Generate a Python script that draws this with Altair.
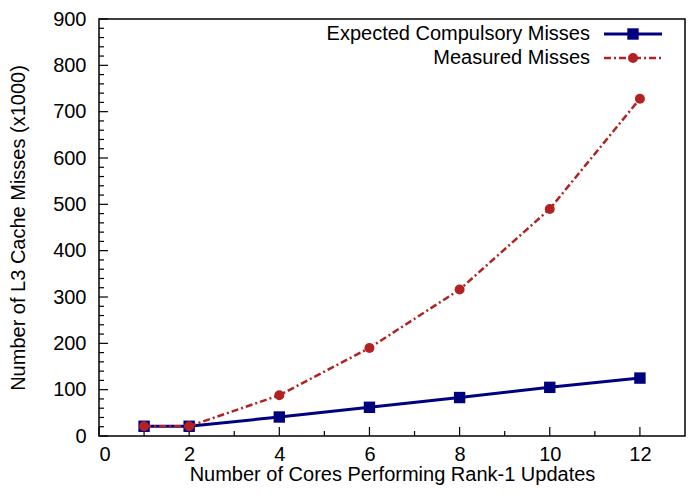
import altair as alt
import pandas as pd

cores = [1, 2, 4, 6, 8, 10, 12]
expected = [21, 21, 41, 62, 83, 105, 125]
measured = [21, 21, 88, 190, 316, 490, 728]

x_major = [0, 2, 4, 6, 8, 10, 12]
x_minor = [1, 3, 5, 7, 9, 11]
y_major = [0, 100, 200, 300, 400, 500, 600, 700, 800, 900]
y_minor = [v for v in range(20, 900, 20) if v % 100 != 0]

FONT = "Liberation Sans"
BLUE = "#00007f"
RED = "#b22222"

df_exp = pd.DataFrame({"x": cores, "y": expected})
df_mea = pd.DataFrame({"x": cores, "y": measured})

xs = alt.Scale(domain=[0, 13], nice=False, zero=False)
ys = alt.Scale(domain=[0, 900], nice=False)

W, H = 586, 417

X = alt.X("x:Q", scale=xs, axis=alt.Axis(values=x_major, title="Number of Cores Performing Rank-1 Updates",
                                         ticks=False, domain=False, grid=False, labelPadding=8,
                                         titlePadding=0, labelFontSize=20, titleFontSize=20,
                                         labelFont=FONT, titleFont=FONT, labelColor="black",
                                         titleColor="black", titleFontWeight="normal"))
Y = alt.Y("y:Q", scale=ys, axis=alt.Axis(values=y_major, title="Number of L3 Cache Misses (x1000)",
                                         ticks=False, domain=False, grid=False, labelPadding=13,
                                         titlePadding=24, labelFontSize=20, titleFontSize=20,
                                         labelFont=FONT, titleFont=FONT, labelColor="black",
                                         titleColor="black", titleFontWeight="normal"))


def yticks(vals, length):
    return alt.Chart(pd.DataFrame({"y": vals})).mark_rule(color="black", strokeWidth=1.2).encode(
        y=Y, x=alt.value(0), x2=alt.value(length))


def xticks(vals, length):
    return alt.Chart(pd.DataFrame({"x": vals})).mark_rule(color="black", strokeWidth=1.2).encode(
        x=X, y=alt.value(H), y2=alt.value(H - length))


one = pd.DataFrame({"a": [0]})
frame = alt.Chart(one).mark_rect(fillOpacity=0, stroke="black", strokeWidth=1.5).encode(
    x=alt.value(0), x2=alt.value(W), y=alt.value(0), y2=alt.value(H))

exp_line = alt.Chart(df_exp).mark_line(color=BLUE, strokeWidth=3).encode(x=X, y=Y)
exp_pts = alt.Chart(df_exp).mark_point(shape="square", filled=True, color=BLUE, size=130, opacity=1).encode(x=X, y=Y)
mea_line = alt.Chart(df_mea).mark_line(color=RED, strokeWidth=2.5, strokeDash=[7, 3, 2, 3]).encode(x=X, y=Y)
mea_pts = alt.Chart(df_mea).mark_point(shape="circle", filled=True, color=RED, size=100, opacity=1).encode(x=X, y=Y)

legend_names = ["Expected Compulsory Misses", "Measured Misses"]
leg = []
for i, (name, col) in enumerate(zip(legend_names, [BLUE, RED])):
    yy = 15 + 24 * i
    leg.append(alt.Chart(one).mark_text(text=name, align="right", baseline="middle", fontSize=20,
                                         font=FONT, color="black").encode(x=alt.value(491), y=alt.value(yy)))
    if i == 0:
        leg.append(alt.Chart(one).mark_rule(color=col, strokeWidth=3).encode(
            x=alt.value(505), x2=alt.value(563), y=alt.value(yy)))
        leg.append(alt.Chart(one).mark_point(shape="square", filled=True, color=col, size=130, opacity=1).encode(
            x=alt.value(534), y=alt.value(yy)))
    else:
        leg.append(alt.Chart(one).mark_rule(color=col, strokeWidth=2.5, strokeDash=[7, 3, 2, 3]).encode(
            x=alt.value(505), x2=alt.value(563), y=alt.value(yy)))
        leg.append(alt.Chart(one).mark_point(shape="circle", filled=True, color=col, size=100, opacity=1).encode(
            x=alt.value(534), y=alt.value(yy)))

chart = alt.layer(
    frame, yticks(y_major, 9), yticks(y_minor, 5), xticks(x_major, 9), xticks(x_minor, 5),
    exp_line, exp_pts, mea_line, mea_pts, *leg
).properties(
    width=W, height=H, autosize=alt.AutoSizeParams(type="none"),
    padding={"left": 91, "top": 11, "right": 1, "bottom": 49},
    background="white",
).configure_view(strokeWidth=0)

chart.save("out.html", embed_options={"renderer": "svg", "actions": False})
